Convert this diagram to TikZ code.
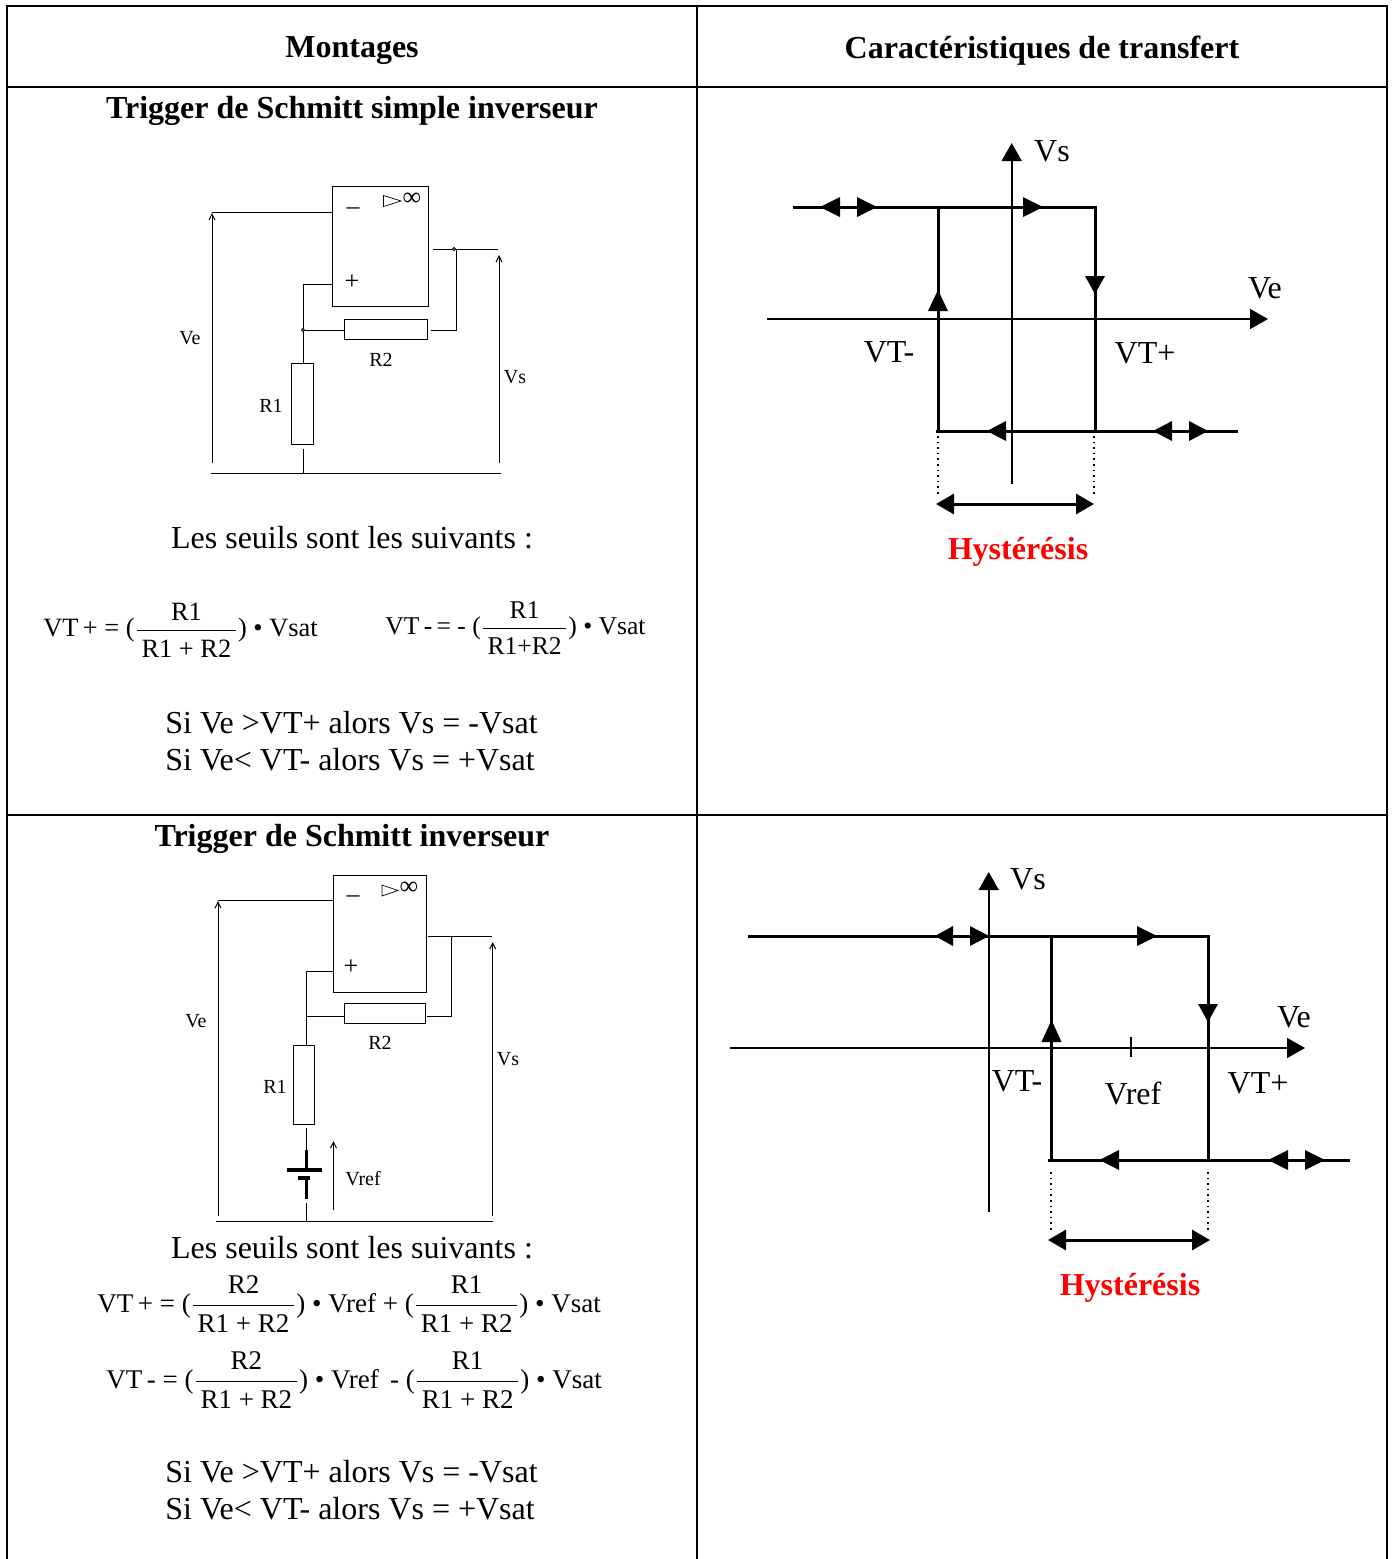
\documentclass[tikz,border=0pt]{standalone}
\usepackage{amsmath}
\usepackage{fontspec}
\setmainfont{Liberation Serif}
\usetikzlibrary{arrows.meta}
\newcommand{\fnum}[1]{\text{\,#1\,}\rule[-2.5pt]{0pt}{2.5pt}}
\newcommand{\fden}[1]{\rule{0pt}{11.5pt}\text{\,#1\,}}
\begin{document}
\begin{tikzpicture}[x=0.5pt,y=-0.5pt,
  tbl/.style={line width=0.9pt},
  wire/.style={line width=0.5pt},
  thick1/.style={line width=1.5pt},
  axis/.style={line width=0.8pt,-{Triangle[length=9pt,width=10pt]}},
  title/.style={font=\fontsize{16}{19}\selectfont\bfseries},
  body/.style={font=\fontsize{16}{19}\selectfont},
  glab/.style={font=\fontsize{16}{19}\selectfont},
  clab/.style={font=\fontsize{10}{12}\selectfont},
  pm/.style={font=\fontsize{13}{15}\selectfont},
  fml/.style={font=\fontsize{13.5}{16}\selectfont,anchor=west,inner sep=0pt},
  hys/.style={font=\fontsize{16}{19}\selectfont\bfseries,text=red},
  varrow/.style={wire,-{Straight Barb[length=3pt,width=3pt]}}
]
\useasboundingbox (0,0) rectangle (1393,1559);
% ---------------- table ----------------
\draw[tbl] (7,1559) -- (7,6) -- (1387,6) -- (1387,1559);
\draw[tbl] (697,6) -- (697,1559);
\draw[tbl] (7,87) -- (1387,87);
\draw[tbl] (7,815) -- (1387,815);
\node[title] (h1) at (352,51) {Montages};
\node[title] (h2) at (1042,51) {Caractéristiques de transfert};
\node[title] (t1) at (352,111) {Trigger de Schmitt simple inverseur};
\node[title] (t2) at (352,839) {Trigger de Schmitt inverseur};

% ---------------- circuit 1 ----------------
\draw[wire] (332,186) rectangle (428,306);
\draw[wire,line width=0.35pt] (383.5,195.5) -- (401,201) -- (383.5,206.5) -- cycle;
\node[font=\fontsize{13}{15}\selectfont,inner sep=0pt] (inf1) at (412,199) {∞};
\node[pm] (m1) at (353,211) {–};
\node[pm] (p1) at (352,282) {+};
\draw[wire] (212,212) -- (332,212);
\draw[varrow] (212,463) -- (212,213);
\draw[wire] (332,284) -- (303,284) -- (303,363);
\draw[wire] (291,363) rectangle (313,444);
\draw[wire] (303,449) -- (303,473);
\draw[wire] (303,330) -- (344,330);
\draw[wire] (344,319) rectangle (427,339);
\draw[wire] (431,330) -- (456,330) -- (456,249);
\draw[wire] (433,249) -- (498,249);
\draw[wire,fill=white] (303,330) circle (1.5);
\draw[wire,fill=white] (454,249) circle (1.5);
\draw[varrow] (499,463) -- (499,255);
\draw[wire] (211,473) -- (501,473);
\node[clab] (ve1) at (190,338) {Ve};
\node[clab] (r21) at (381,360) {R2};
\node[clab] (r11) at (271,406) {R1};
\node[clab] (vs1) at (515,377) {Vs};

% ---------------- row 1 formulas ----------------
\node[body] (ls1) at (352,538) {Les seuils sont les suivants :};
\node[fml,font=\fontsize{13.2}{16}\selectfont] (f1) at (43,630) {$\text{VT\,+ = (}\dfrac{\fnum{R1}}{\fden{R1 + R2}}\text{) • Vsat}$};
\node[fml,font=\fontsize{12.8}{15}\selectfont] (f2) at (385,628) {$\text{VT\,-\,= - (}\dfrac{\fnum{R1}}{\fden{R1+R2}}\text{) • Vsat}$};
\node[body,anchor=west,inner sep=0pt] (s11) at (165,723) {Si Ve >VT+ alors Vs = -Vsat};
\node[body,anchor=west,inner sep=0pt] (s12) at (165,760) {Si Ve< VT- alors Vs = +Vsat};

% ---------------- graph 1 ----------------
\draw[axis] (1011.7,484) -- (1011.7,143);
\draw[axis] (767,319) -- (1268,319);
\draw[thick1] (793,207) -- (1095,207) -- (1095,431);
\draw[thick1] (936,431) -- (1238,431);
\draw[thick1] (938,431) -- (938,207);
\fill (820,207) -- (840,197) -- (840,217) -- cycle;
\fill (877,207) -- (857,197) -- (857,217) -- cycle;
\fill (1043,207) -- (1023,197) -- (1023,217) -- cycle;
\fill (1095,294) -- (1085,276) -- (1105,276) -- cycle;
\fill (938,290) -- (928,311) -- (948,311) -- cycle;
\fill (987,431) -- (1006,421) -- (1006,441) -- cycle;
\fill (1153,431) -- (1172,421) -- (1172,441) -- cycle;
\fill (1208,431) -- (1189,421) -- (1189,441) -- cycle;
\draw[dotted,line width=0.8pt] (938,436) -- (938,495);
\draw[dotted,line width=0.8pt] (1094,436) -- (1094,495);
\draw[thick1,{Triangle[length=9pt,width=10pt]}-{Triangle[length=9pt,width=10pt]}] (936,504) -- (1094,504);
\node[glab] (gvs1) at (1052,151) {Vs};
\node[glab] (gve1) at (1265,288) {Ve};
\node[glab] (gvtm1) at (889,352) {VT-};
\node[glab] (gvtp1) at (1145,353) {VT+};
\node[hys] (hy1) at (1018,552) {Hystérésis};

% ---------------- circuit 2 ----------------
\draw[wire] (333,875) rectangle (426,992);
\draw[wire,line width=0.35pt] (382,885) -- (398,890.5) -- (382,896) -- cycle;
\node[font=\fontsize{13}{15}\selectfont,inner sep=0pt] (inf2) at (409,888) {∞};
\node[pm] (m2) at (353,899) {–};
\node[pm] (p2) at (351,967) {+};
\draw[wire] (218,900) -- (333,900);
\draw[varrow] (218,1216) -- (218,901);
\draw[wire] (333,971) -- (306,971) -- (306,1045);
\draw[wire] (306,1016) -- (344,1016);
\draw[wire] (344,1003) rectangle (425,1023);
\draw[wire] (427,1016) -- (451,1016) -- (451,936);
\draw[wire] (428,936) -- (492,936);
\draw[varrow] (492.7,1216) -- (492.7,942);
\draw[wire] (293,1045) rectangle (314,1124);
\draw[wire] (306,1128) -- (306,1150);
\draw[line width=1.5pt] (306,1150) -- (306,1169);
\draw[line width=2pt] (287,1169.5) -- (322,1169.5);
\draw[line width=2pt] (298,1177.5) -- (310,1177.5);
\draw[line width=1.5pt] (306,1177.5) -- (306,1199);
\draw[wire] (306,1203) -- (306,1221);
\draw[varrow] (333.5,1210) -- (333.5,1141);
\draw[wire] (216,1221) -- (493,1221);
\node[clab] (ve2) at (196,1021) {Ve};
\node[clab] (r22) at (380,1043) {R2};
\node[clab] (r12) at (275,1087) {R1};
\node[clab] (vs2) at (508,1059) {Vs};
\node[clab] (vref2) at (363,1179) {Vref};

% ---------------- row 2 formulas ----------------
\node[body] (ls2) at (352,1248) {Les seuils sont les suivants :};
\node[fml] (f3) at (97,1304) {$\text{VT\,+ = (}\dfrac{\fnum{R2}}{\fden{R1 + R2}}\text{) • Vref + (}\dfrac{\fnum{R1}}{\fden{R1 + R2}}\text{) • Vsat}$};
\node[fml] (f4) at (106,1380) {$\text{VT\,- = (}\dfrac{\fnum{R2}}{\fden{R1 + R2}}\text{) • Vref\, - (}\dfrac{\fnum{R1}}{\fden{R1 + R2}}\text{) • Vsat}$};
\node[body,anchor=west,inner sep=0pt] (s21) at (165,1472) {Si Ve >VT+ alors Vs = -Vsat};
\node[body,anchor=west,inner sep=0pt] (s22) at (165,1509) {Si Ve< VT- alors Vs = +Vsat};

% ---------------- graph 2 ----------------
\draw[axis] (988.7,1212) -- (988.7,872);
\draw[axis] (730,1048) -- (1305,1048);
\draw[wire,line width=0.8pt] (1131,1037) -- (1131,1057);
\draw[thick1] (748,936) -- (1208,936) -- (1208,1160);
\draw[thick1] (1048,1160) -- (1350,1160);
\draw[thick1] (1051.5,1160) -- (1051.5,936);
\fill (935,936) -- (953,926) -- (953,946) -- cycle;
\fill (989,936) -- (970,926) -- (970,946) -- cycle;
\fill (1157,936) -- (1137,926) -- (1137,946) -- cycle;
\fill (1208,1022) -- (1198,1004) -- (1218,1004) -- cycle;
\fill (1051.5,1020) -- (1041.5,1042) -- (1061.5,1042) -- cycle;
\fill (1099.5,1160) -- (1119,1150) -- (1119,1170) -- cycle;
\fill (1268,1160) -- (1288,1150) -- (1288,1170) -- cycle;
\fill (1325,1160) -- (1305,1150) -- (1305,1170) -- cycle;
\draw[dotted,line width=0.8pt] (1051,1172) -- (1051,1232);
\draw[dotted,line width=0.8pt] (1208,1172) -- (1208,1232);
\draw[thick1,{Triangle[length=9pt,width=10pt]}-{Triangle[length=9pt,width=10pt]}] (1048,1240) -- (1210,1240);
\node[glab] (gvs2) at (1028,879) {Vs};
\node[glab] (gve2) at (1294,1017) {Ve};
\node[glab] (gvtm2) at (1017,1081) {VT-};
\node[glab] (gvref2) at (1133,1093) {Vref};
\node[glab] (gvtp2) at (1258,1083) {VT+};
\node[hys] (hy2) at (1130,1288) {Hystérésis};
\end{tikzpicture}
\end{document}
